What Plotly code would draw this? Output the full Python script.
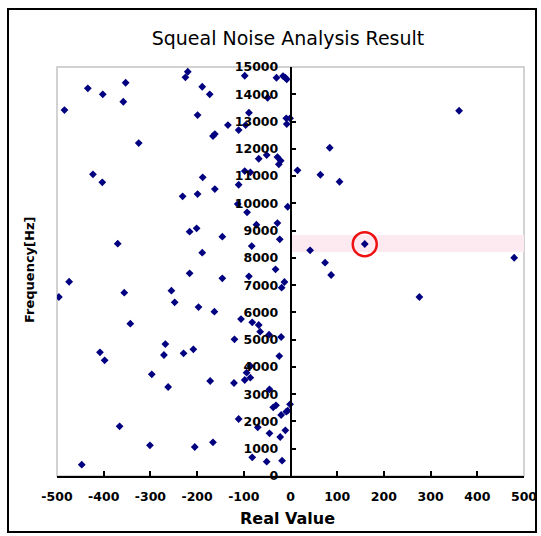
import plotly.graph_objects as go

# Data points (Real Value, Frequency [Hz])
real_value = [
    -484, -434, -402, -353, -358, -325, -423, -403, -220, -225, -189, -173, -199,
    -166, -162, -134, -111, -98, -89, -96, -49, -30, -16, -11, -8, -9, -1, -8,
    -68, -51, -28, -21, -25, -98, -86, 15, -188, -162, -111, -231, -199,
    361, 84, 64, 105,
    -113, -93, -6, -73, -28, -23, -83, -216, -201, -146, -370, -189, -32, -89,
    -13, -19, -474, -496, -356, -216, -146, -255, -248, -197, -163, -106, -82,
    -68, -343,
    42, 159, 74, 87, 276, 479,
    -65, -46, -20, -120, -408, -398, -268, -271, -229, -208, -24, -297, -262,
    -172, -121, -94, -98, -86, -86, -45, -37, -31, -20, -9, -6, -1, -111, -70,
    -11, -45, -22, -366, -301, -205, -166, -82, -51, -18, -447,
]
frequency = [
    13421, 14217, 13997, 14423, 13726, 12211, 11063, 10770, 14826, 14620, 14276,
    13997, 13238, 12468, 12541, 12871, 12688, 14679, 13323, 12871, 13873, 14606,
    14668, 14606, 14547, 13117, 13117, 12908, 11636, 11771, 11698, 11563, 11430,
    11184, 11137, 11210, 10953, 10524, 10682, 10257, 10341,
    13396, 12039, 11049, 10792,
    9974, 9670, 9875, 9215, 9277, 8679, 8434, 8960, 9083, 8776, 8519, 8189, 7579,
    7323, 7114, 6905, 7125, 6564, 6723, 7433, 7250, 6795, 6370, 6197, 6025, 5757,
    5636, 5537, 5585,
    8276, 8508, 7822, 7371, 6564, 8005,
    5292, 5182, 5097, 5012, 4535, 4242, 4840, 4437, 4499, 4646, 4400, 3729, 3264,
    3484, 3410, 3788, 3520, 4034, 3605, 3179, 2519, 2593, 2237, 2358, 2395, 2629,
    2090, 1786, 1676, 1566, 1430, 1822, 1126, 1063, 1236, 686, 525, 561, 414,
]

# Highlighted point and band
highlight_x = [159]
highlight_y = [8500]
band_x = [0, 500]
band_y = [8214, 8837]

x_ticks = [-500, -400, -300, -200, -100, 0, 100, 200, 300, 400, 500]
x_ticktext = ["-500", "-400", "-300", "-200", "-100", "0", "100", "200", "300", "400", "500"]
y_ticks = list(range(0, 15001, 1000))
y_ticktext = [str(v) for v in y_ticks]

W, H = 541, 536
L, R, T, B = 57, 17, 67, 60
pw, ph = W - L - R, H - T - B

def px_x(p):
    return (p - L) / pw

def px_y(p):
    return (H - B - p) / ph

fig = go.Figure()

fig.add_trace(go.Scatter(
    x=real_value, y=frequency, mode="markers",
    marker=dict(symbol="diamond", size=6, color="#000080"),
    hoverinfo="x+y", showlegend=False,
))
fig.add_trace(go.Scatter(
    x=highlight_x, y=highlight_y, mode="markers",
    marker=dict(symbol="circle-open", size=24, color="#ee1111", line=dict(width=2.5, color="#ee1111")),
    hoverinfo="skip", showlegend=False,
))

shapes = [
    # pink highlight band
    dict(type="rect", xref="x", yref="y", x0=band_x[0], x1=band_x[1], y0=band_y[0], y1=band_y[1],
         fillcolor="#fde9f0", line=dict(width=0), layer="below"),
    # plot area border (gray)
    dict(type="rect", xref="paper", yref="paper", x0=0, x1=1, y0=0, y1=1,
         line=dict(color="#c4c4c4", width=1.5), layer="below"),
    # outer border of the chart
    dict(type="rect", xref="paper", yref="paper", x0=px_x(8), x1=px_x(536), y0=px_y(532), y1=px_y(9),
         line=dict(color="black", width=2)),
]

tickfont = dict(family="DejaVu Sans", size=12.5, color="black", weight="bold")

fig.update_layout(
    width=W, height=H, autosize=False,
    margin=dict(l=L, r=R, t=T, b=B, pad=0, autoexpand=False),
    paper_bgcolor="white", plot_bgcolor="white",
    shapes=shapes,
    title=dict(text="Squeal Noise Analysis Result", x=px_x(288), xanchor="center", xref="paper",
               y=1 - 38 / H, yanchor="middle", automargin=False,
               font=dict(family="DejaVu Sans", size=19, color="black")),
    xaxis=dict(range=[-500, 500], tickvals=x_ticks, ticktext=x_ticktext, automargin=False,
               showgrid=False, zeroline=False, showline=True, linecolor="black", linewidth=1.5,
               ticks="inside", ticklen=5, tickcolor="black", tickwidth=1.5,
               ticklabelstandoff=8, tickfont=tickfont, fixedrange=True),
    yaxis=dict(range=[0, 15000], tickvals=y_ticks, ticktext=y_ticktext, automargin=False,
               anchor="free", position=0.5, side="left",
               showgrid=False, zeroline=False, showline=True, linecolor="black", linewidth=1.5,
               ticks="inside", ticklen=5, tickcolor="black", tickwidth=1.5,
               ticklabelstandoff=9, tickfont=tickfont, fixedrange=True),
    annotations=[
        dict(text="Real Value", xref="paper", yref="paper", x=px_x(287), y=px_y(518),
             xanchor="center", yanchor="middle", showarrow=False,
             font=dict(family="DejaVu Sans", size=16, color="black", weight="bold")),
        dict(text="Frequency[Hz]", xref="paper", yref="paper", x=px_x(29), y=px_y(270),
             xanchor="center", yanchor="middle", showarrow=False, textangle=-90,
             font=dict(family="DejaVu Sans", size=13, color="black", weight="bold")),
    ],
)

fig.write_html("out.html")
